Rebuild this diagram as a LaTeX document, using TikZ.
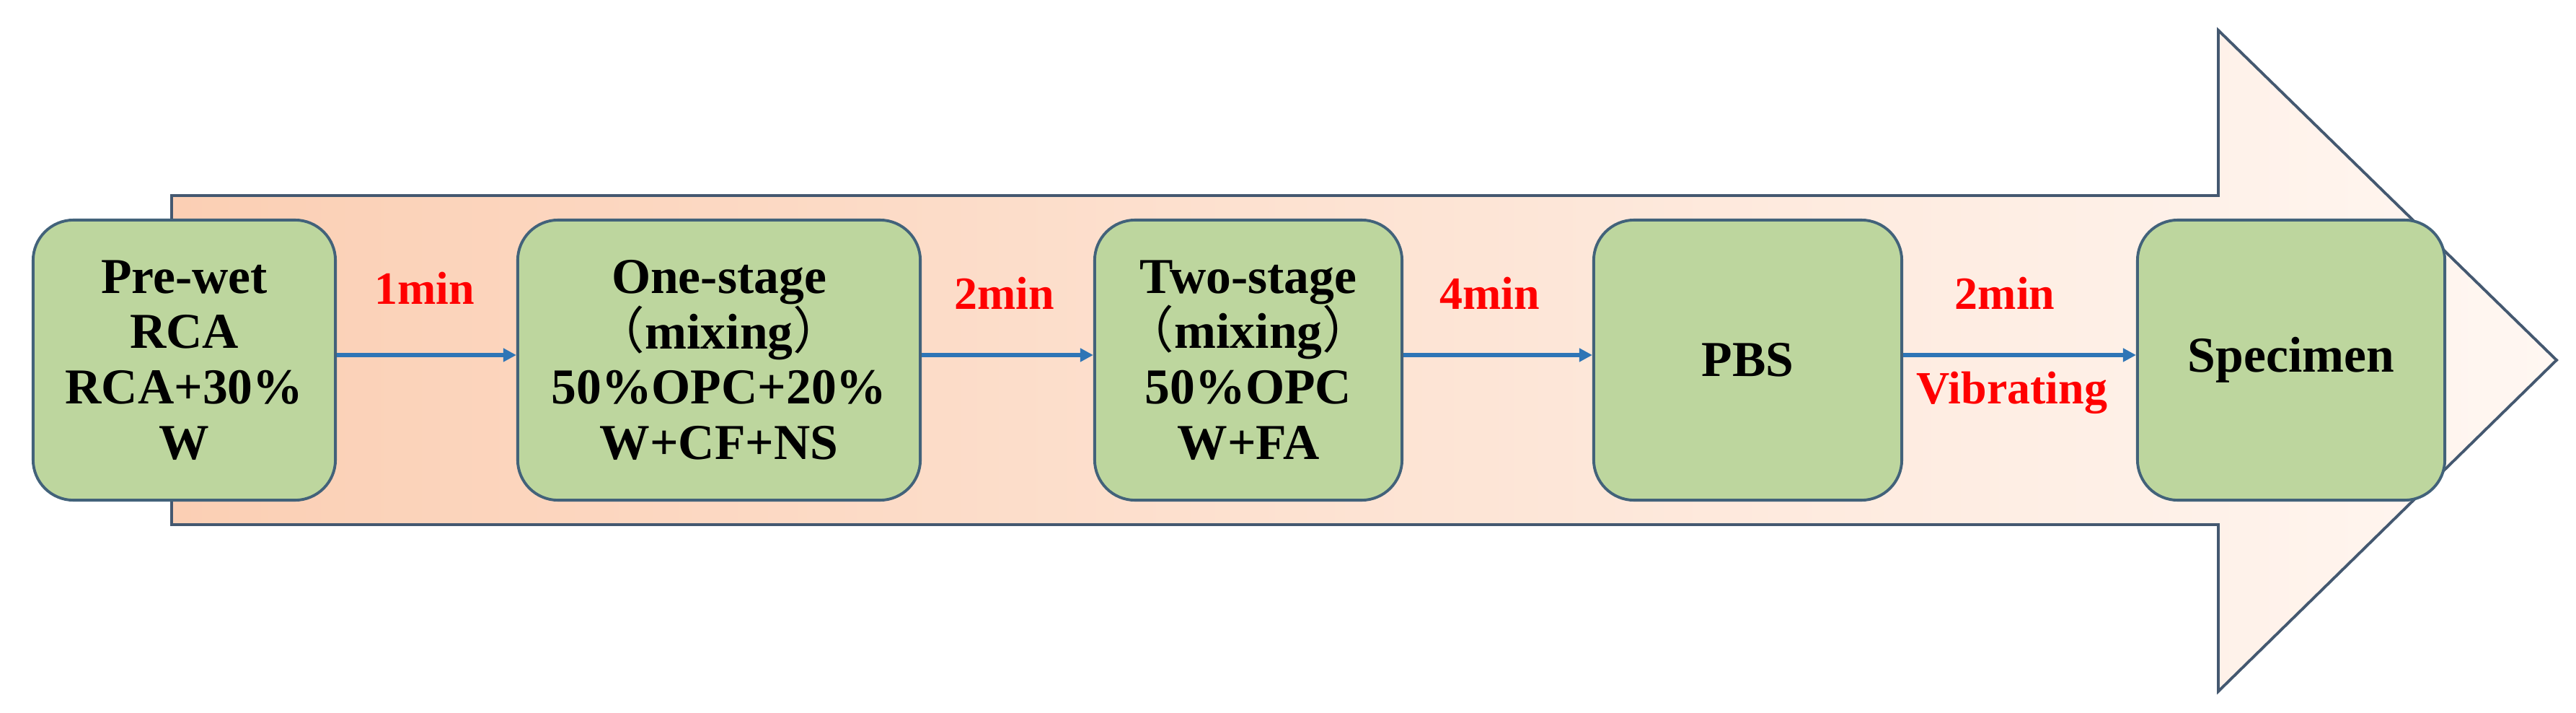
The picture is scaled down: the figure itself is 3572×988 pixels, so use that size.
\documentclass[tikz,border=0pt]{standalone}
\usepackage{fontspec}
\setmainfont{Liberation Serif}
\newfontfamily\cjk{Noto Sans CJK SC}
\usetikzlibrary{arrows.meta}
\definecolor{boxgreen}{RGB}{189,214,158}
\definecolor{boxline}{RGB}{66,98,122}
\definecolor{shaftline}{RGB}{68,88,112}
\definecolor{peachL}{RGB}{251,207,180}
\definecolor{peachR}{RGB}{255,247,242}
\definecolor{conn}{RGB}{46,117,182}
\definecolor{lblred}{RGB}{255,0,0}
\tikzset{
  stagebox/.style={rectangle, rounded corners=0.56cm, draw=boxline, line width=1.1pt,
    fill=boxgreen, inner sep=0pt, minimum height=3.88cm, align=center,
    font=\fontsize{19.8pt}{21.8pt}\selectfont\bfseries, text=black},
  timelbl/.style={anchor=base, inner sep=0pt, text=lblred,
    font=\fontsize{18.2pt}{20pt}\selectfont\bfseries},
  flow/.style={draw=conn, line width=1.6pt, -{Triangle[length=0.18cm,width=0.18cm]}}
}
\newcommand{\lp}{{\cjk\mdseries （}}
\newcommand{\rp}{{\cjk\mdseries ）}}
\begin{document}
\begin{tikzpicture}[x=0.01cm,y=-0.01cm]
\useasboundingbox (0,0) rectangle (3572,988);
% big arrow
\shade[left color=peachL, right color=peachR, draw=shaftline, line width=1.1pt, line join=miter]
  (238,271) -- (3076,271) -- (3076,42) -- (3545,499) -- (3076,958) -- (3076,727) -- (238,727) -- cycle;
% stages
\node[stagebox, minimum width=4.19cm] (b1) at (255.5,499) {Pre-wet\\RCA\\RCA+30\%\\W};
\node[stagebox, minimum width=5.58cm] (b2) at (997,499) {One-stage\\\lp mixing\rp\\50\%OPC+20\%\\W+CF+NS};
\node[stagebox, minimum width=4.26cm] (b3) at (1731,499) {Two-stage\\\lp mixing\rp\\50\%OPC\\W+FA};
\node[stagebox, minimum width=4.27cm] (b4) at (2423.5,499) {PBS};
\node[stagebox, minimum width=4.26cm] (b5) at (3177,499) {Specimen};
% connectors
\draw[flow] ([yshift=0.07cm]b1.east) -- ([yshift=0.07cm]b2.west);
\draw[flow] ([yshift=0.07cm]b2.east) -- ([yshift=0.07cm]b3.west);
\draw[flow] ([yshift=0.07cm]b3.east) -- ([yshift=0.07cm]b4.west);
\draw[flow] ([yshift=0.07cm]b4.east) -- ([yshift=0.07cm]b5.west);
% labels
\node[timelbl] (t1) at (589,421) {1min};
\node[timelbl] (t2) at (1393,428) {2min};
\node[timelbl] (t3) at (2066,428) {4min};
\node[timelbl] (t4) at (2780,428) {2min};
\node[timelbl] (t5) at (2790,559) {Vibrating};
\end{tikzpicture}
\end{document}
